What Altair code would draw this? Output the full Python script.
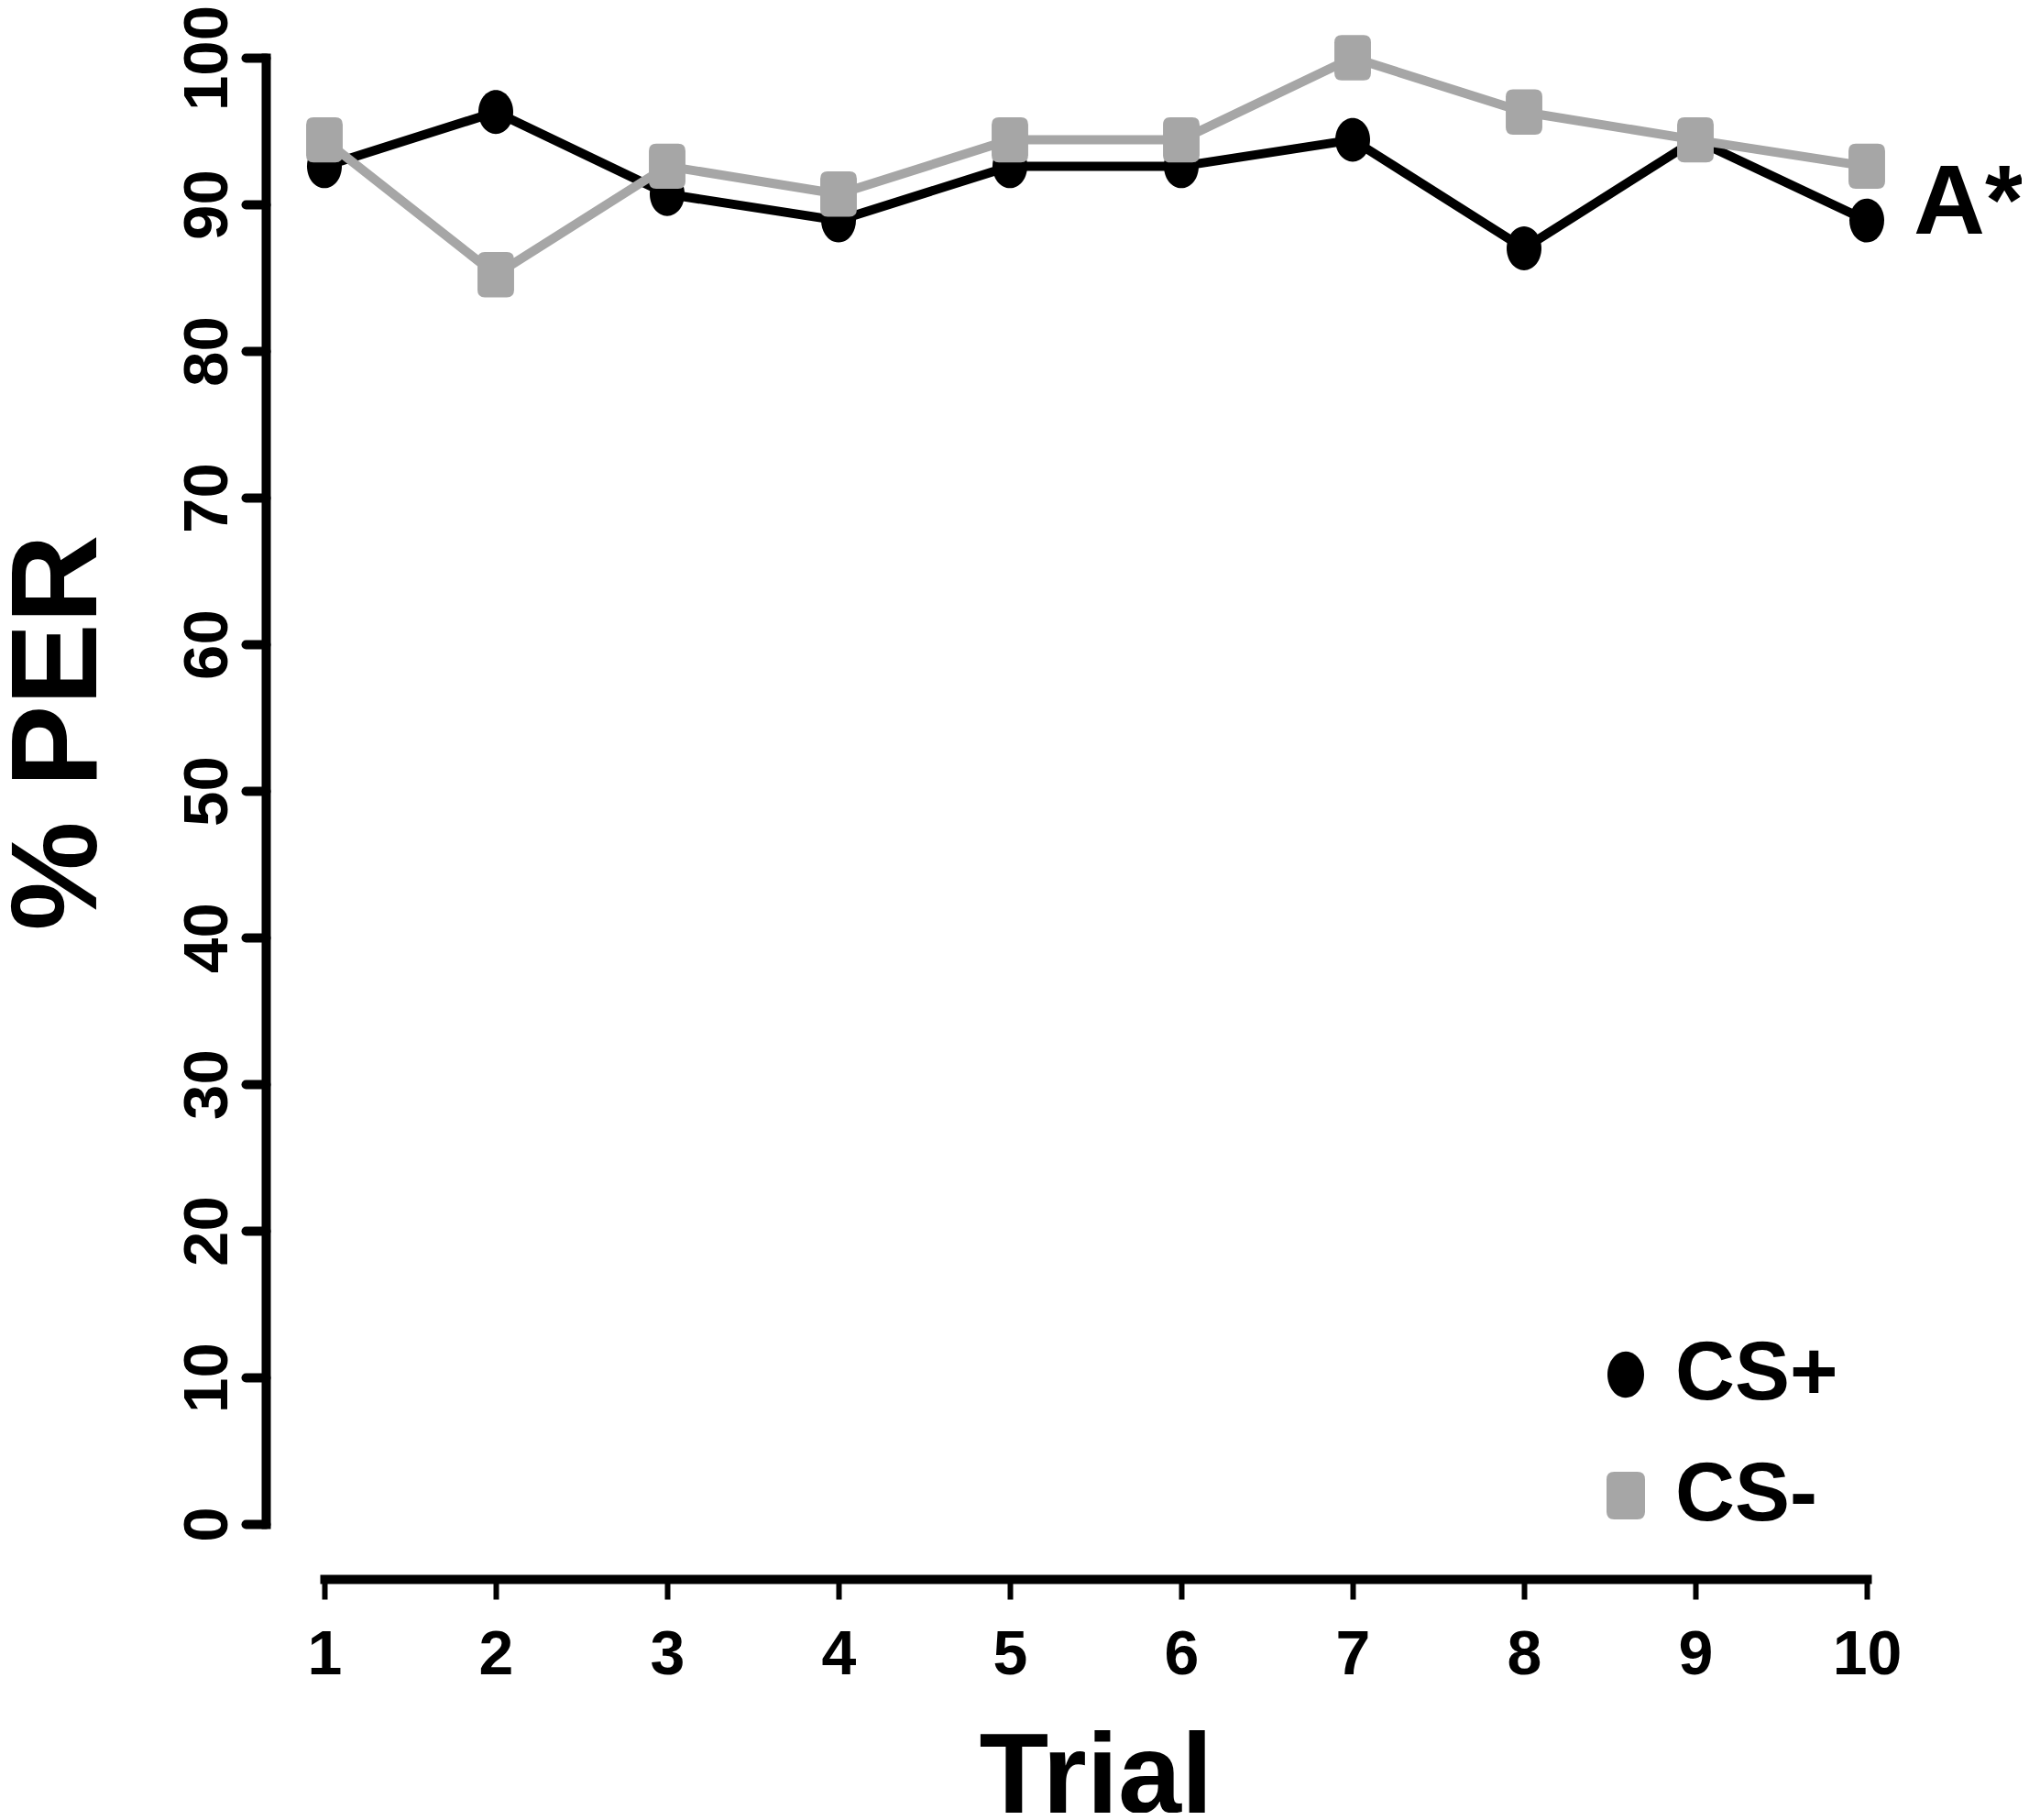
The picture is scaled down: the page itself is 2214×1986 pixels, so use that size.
import altair as alt
import pandas as pd

# ---- data ----
trials = list(range(1, 11))
cs_plus = [92.6, 96.3, 90.7, 88.9, 92.6, 92.6, 94.4, 87.0, 94.4, 88.9]
cs_minus = [94.4, 85.2, 92.6, 90.7, 94.4, 94.4, 100.0, 96.3, 94.4, 92.6]
series_names = ["CS+", "CS-"]
series_colors = ["#000000", "#a6a6a6"]
y_ticks = list(range(0, 101, 10))
annotation_text = ["A*"]
annotation_trial = [10]
annotation_value = [88.9]

rows = []
for name, vals in zip(series_names, [cs_plus, cs_minus]):
    for t, v in zip(trials, vals):
        rows.append({"Trial": t, "PER": v, "Group": name})
df = pd.DataFrame(rows)
ann = pd.DataFrame({"Trial": annotation_trial, "PER": annotation_value, "label": annotation_text})

FONT = "Liberation Sans"
ELLIPSE = "M -1 0 A 1 1.26 0 1 0 1 0 A 1 1.26 0 1 0 -1 0 Z"
RSQ = ("M -0.63 -1.3 L 0.63 -1.3 Q 1.05 -1.3 1.05 -0.88 L 1.05 0.88 Q 1.05 1.3 0.63 1.3 "
       "L -0.63 1.3 Q -1.05 1.3 -1.05 0.88 L -1.05 -0.88 Q -1.05 -1.3 -0.63 -1.3 Z")

x = alt.X(
    "Trial:Q",
    scale=alt.Scale(domain=[1, 10], nice=False, zero=False),
    axis=alt.Axis(
        values=trials, title="Trial", format="d", offset=60, grid=False,
        domainWidth=10, domainColor="black", domainCap="square",
        tickWidth=6, tickSize=22, tickColor="black",
        labelFontSize=68, labelFont=FONT, labelFontWeight="bold", labelColor="black",
        labelPadding=27, labelFlush=False, labelOverlap=False,
        titleFontSize=124, titleFont=FONT, titleFontWeight="bold", titleColor="black",
        titlePadding=39,
    ),
)
y = alt.Y(
    "PER:Q",
    scale=alt.Scale(domain=[0, 100], nice=False),
    axis=alt.Axis(
        values=y_ticks, title="% PER", offset=64, grid=False,
        domainWidth=10, domainColor="black", domainCap="square",
        tickWidth=10, tickSize=22, tickColor="black", tickCap="round",
        labelFontSize=69, labelFont=FONT, labelFontWeight="bold", labelColor="black",
        labelAngle=270, labelAlign="center", labelBaseline="alphabetic", labelPadding=21,
        labelOverlap=False,
        titleFontSize=134, titleFont=FONT, titleFontWeight="bold", titleColor="black",
        titleAngle=270, titleAlign="center", titleBaseline="alphabetic",
        titlePadding=88, titleY=736,
    ),
)

legend = alt.Legend(
    title=None, orient="none", legendX=1375, legendY=1392, padding=0,
    labelFontSize=90, labelFont=FONT, labelFontWeight="bold", labelColor="black",
    labelOffset=9, rowPadding=42, symbolSize=1600, symbolStrokeWidth=0, labelLimit=0,
)
color = alt.Color("Group:N", scale=alt.Scale(domain=series_names, range=series_colors), legend=legend)
shape = alt.Shape("Group:N", scale=alt.Scale(domain=series_names, range=[ELLIPSE, RSQ]), legend=legend)

base = alt.Chart(df)
layers = []
for name, col in zip(series_names, series_colors):
    sel = base.transform_filter(alt.datum.Group == name)
    layers.append(sel.mark_line(color=col, strokeWidth=10, strokeJoin="round").encode(x=x, y=y))
    layers.append(sel.mark_point(filled=True, opacity=1, size=1444, strokeWidth=0).encode(
        x=x, y=y, color=color, shape=shape))

text = alt.Chart(ann).mark_text(
    align="left", baseline="alphabetic", dx=51, dy=14, fontSize=108,
    font=FONT, fontWeight="bold", color="black",
).encode(x=x, y=y, text="label:N")
layers.append(text)

chart = alt.layer(*layers).properties(
    width=1683, height=1600,
    autosize=alt.AutoSizeParams(type="none"),
    padding={"left": 346, "top": 55, "right": 169, "bottom": 315},
).configure(background="white").configure_view(strokeWidth=0, stroke="transparent")

chart.save("out.html", embed_options={"renderer": "svg", "actions": False})
